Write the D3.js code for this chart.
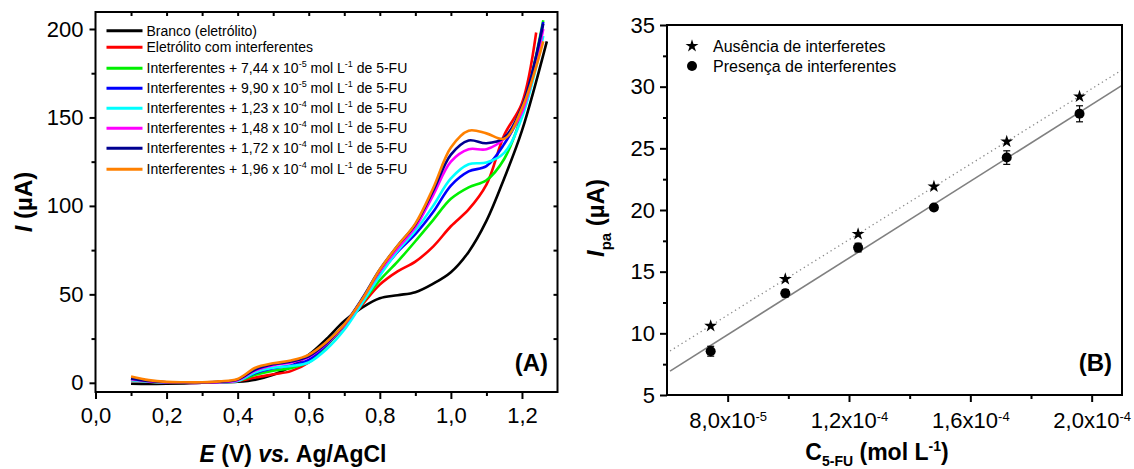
<!DOCTYPE html>
<html>
<head>
<meta charset="utf-8">
<script src="https://cdn.jsdelivr.net/npm/d3@7/dist/d3.min.js"></script>
<style>
  html, body { margin: 0; padding: 0; background: #fff; }
  svg { display: block; font-family: "Liberation Sans", Arial, Helvetica, sans-serif; }
</style>
</head>
<body>
<svg id="chart" width="1134" height="469"></svg>
<script>
// ---- Panel A: linear sweep voltammograms ----
const potential = [0.10, 0.15, 0.20, 0.25, 0.30, 0.35, 0.40, 0.45, 0.50, 0.55, 0.60, 0.65,
                   0.70, 0.75, 0.80, 0.85, 0.90, 0.95, 1.00, 1.05, 1.10, 1.15, 1.20];

const currentBlank   = [-0.5, -0.6, -0.5, -0.3, 0, 0.2, 0.6, 1.8, 4.5, 9.2, 15.8, 24.8, 35, 42.5, 47.8, 49.5, 51.2, 56, 62.5, 74, 91.5, 115.5, 142.5];
const currentInterf  = [1.5, 0.6, 0.2, 0, 0, 0.3, 1.0, 3.0, 4.8, 6.6, 11.5, 21, 32, 44, 55.5, 63, 68.5, 77, 88.5, 98, 112, 140, 158];
const current744     = [2, 0.8, 0.2, 0.1, 0.1, 0.4, 1.2, 4.5, 6.8, 8.3, 12, 21, 32, 45, 58, 68.5, 80, 92, 104, 110.5, 114.5, 126.5, 152];
const current990     = [2.5, 1, 0.3, 0.2, 0.2, 0.5, 1.3, 5.5, 8.2, 9.8, 13, 21.5, 32.5, 46.5, 61.5, 74, 84, 96.5, 111.5, 119.5, 122.5, 135, 154];
const current123     = [1.5, 0.6, 0.1, 0, 0, 0.3, 1.0, 6, 8.5, 9.5, 11.5, 19, 30, 45, 60.5, 74.5, 86, 100, 115.5, 123.5, 124.5, 130, 150];
const current148     = [2, 0.8, 0.2, 0, 0, 0.4, 1.5, 7, 10, 11.5, 14.5, 22, 32.5, 47, 63, 76, 88, 106, 125, 132, 132, 138, 153];
const current172     = [2.5, 1, 0.3, 0.2, 0.2, 0.6, 1.8, 7.5, 10.5, 12, 15, 22.5, 33, 47.5, 64, 77.5, 89.5, 108.5, 129, 137, 135.4, 138.5, 156];
const current196     = [3.6, 1.5, 0.5, 0.3, 0.3, 0.8, 2.2, 8.5, 11, 12.6, 15.8, 23, 33, 47, 64, 77.5, 90, 110, 133, 142.5, 141, 138, 155];

// last point of each sweep (potential, current)
const sweepEndPotential = [1.27, 1.24, 1.26, 1.26, 1.26, 1.26, 1.26, 1.26];
const sweepEndCurrent   = [193, 198, 205, 204, 196, 200, 203, 193];

const seriesNames = [
  ["Branco (eletrólito)"],
  ["Eletrólito com interferentes"],
  ["Interferentes + 7,44 x 10", "-5", " mol L", "-1", " de 5-FU"],
  ["Interferentes + 9,90 x 10", "-5", " mol L", "-1", " de 5-FU"],
  ["Interferentes + 1,23 x 10", "-4", " mol L", "-1", " de 5-FU"],
  ["Interferentes + 1,48 x 10", "-4", " mol L", "-1", " de 5-FU"],
  ["Interferentes + 1,72 x 10", "-4", " mol L", "-1", " de 5-FU"],
  ["Interferentes + 1,96 x 10", "-4", " mol L", "-1", " de 5-FU"]
];
const seriesCurrents = [currentBlank, currentInterf, current744, current990, current123, current148, current172, current196];
const seriesColors = ["#000000", "#ff0000", "#00f000", "#0000ff", "#00ffff", "#ff00ff", "#000090", "#ff8000"];

const xTicksA = [0.0, 0.2, 0.4, 0.6, 0.8, 1.0, 1.2];
const yTicksA = [0, 50, 100, 150, 200];

// ---- Panel B: calibration ----
const concentration   = [7.44e-5, 9.90e-5, 1.23e-4, 1.48e-4, 1.72e-4, 1.96e-4];
const ipaAbsence      = [10.6, 14.4, 18.05, 21.9, 25.55, 29.2];
const ipaPresence     = [8.55, 13.25, 16.95, 20.2, 24.25, 27.8];
const ipaPresenceErr  = [0.4, 0.3, 0.35, 0.2, 0.55, 0.65];
const fitRange        = [6.1e-5, 2.1e-4];
const xTicksB = [8e-5, 1.2e-4, 1.6e-4, 2.0e-4];
const yTicksB = [5, 10, 15, 20, 25, 30, 35];

const svg = d3.select("#chart");
const FONT_TICK = 22;

function styleAxis(g) {
  g.select(".domain").remove();
  g.selectAll(".tick line").attr("stroke", "#000").attr("stroke-width", 2);
  g.selectAll(".tick text").attr("fill", "#000").style("font-size", FONT_TICK + "px");
}
const commaFmt = d => d3.format(".1f")(d).replace(".", ",");

// ================= Panel A =================
const A = { left: 95.5, right: 557.5, top: 12, bottom: 392 };
const xA = d3.scaleLinear().domain([0, 1.3]).range([A.left, A.right]);
const yA = d3.scaleLinear().domain([-5.2, 209.6]).range([A.bottom, A.top]);
const gA = svg.append("g");

// minor ticks
gA.append("g").attr("transform", `translate(0,${A.bottom})`)
  .call(d3.axisBottom(xA).tickValues([0.1, 0.3, 0.5, 0.7, 0.9, 1.1]).tickSize(4).tickFormat(""))
  .call(styleAxis);
gA.append("g").attr("transform", `translate(${A.left},0)`)
  .call(d3.axisLeft(yA).tickValues([25, 75, 125, 175]).tickSize(4).tickFormat(""))
  .call(styleAxis);
// top and right mirrored ticks, pointing inward
gA.append("g").attr("transform", `translate(0,${A.top})`)
  .call(d3.axisTop(xA).tickValues(d3.range(1, 13).map(i => i / 10)).tickSize(-4).tickFormat(""))
  .call(styleAxis);
gA.append("g").attr("transform", `translate(${A.right},0)`)
  .call(d3.axisRight(yA).tickValues([25, 50, 75, 100, 125, 150, 175, 200]).tickSize(-4).tickFormat(""))
  .call(styleAxis);
// major ticks
gA.append("g").attr("transform", `translate(0,${A.bottom})`)
  .call(d3.axisBottom(xA).tickValues(xTicksA).tickSize(7).tickPadding(8).tickFormat(commaFmt))
  .call(styleAxis);
gA.append("g").attr("transform", `translate(${A.left},0)`)
  .call(d3.axisLeft(yA).tickValues(yTicksA).tickSize(6).tickPadding(6).tickFormat(d3.format("d")))
  .call(styleAxis);

// curves
const lineA = d3.line()
  .x(d => xA(d[0])).y(d => yA(d[1]))
  .curve(d3.curveCatmullRom.alpha(0.5));
seriesCurrents.forEach((vals, i) => {
  const pts = potential.map((e, j) => [e, vals[j]]);
  pts.push([sweepEndPotential[i], sweepEndCurrent[i]]);
  gA.append("path")
    .attr("d", lineA(pts))
    .attr("fill", "none")
    .attr("stroke", seriesColors[i])
    .attr("stroke-width", 2.6)
    .attr("stroke-linejoin", "round");
});

// frame
gA.append("rect")
  .attr("x", A.left).attr("y", A.top)
  .attr("width", A.right - A.left).attr("height", A.bottom - A.top)
  .attr("fill", "none").attr("stroke", "#000").attr("stroke-width", 2);

// legend
const legendRows = [30.7, 47.3, 68.3, 88.3, 108.3, 128.3, 148.3, 169.3];
seriesNames.forEach((parts, i) => {
  const y = legendRows[i];
  gA.append("line")
    .attr("x1", 106.5).attr("x2", 142.5).attr("y1", y).attr("y2", y)
    .attr("stroke", seriesColors[i]).attr("stroke-width", 3);
  const t = gA.append("text").attr("x", 146.5).attr("y", y + 5).style("font-size", "14px").attr("fill", "#000");
  parts.forEach((p, k) => {
    const sup = k % 2 === 1;
    t.append("tspan")
      .attr("dy", sup ? -6 : (k > 0 ? 6 : 0))
      .style("font-size", sup ? "9px" : "14px")
      .text(p);
  });
});

// panel tag
gA.append("text").attr("x", 548).attr("y", 371).attr("text-anchor", "end")
  .style("font-size", "24px").style("font-weight", "bold").text("(A)");

// axis titles
const xtA = svg.append("text").attr("x", 293).attr("y", 462).attr("text-anchor", "middle")
  .style("font-size", "23px").style("font-weight", "bold");
xtA.append("tspan").style("font-style", "italic").text("E");
xtA.append("tspan").text(" (V)  ");
xtA.append("tspan").style("font-style", "italic").text("vs.");
xtA.append("tspan").text(" Ag/AgCl");

const ytA = svg.append("text").attr("transform", "translate(32,202) rotate(-90)")
  .attr("text-anchor", "middle").style("font-size", "24px").style("font-weight", "bold");
ytA.append("tspan").style("font-style", "italic").text("I");
ytA.append("tspan").text(" (µA)");

// ================= Panel B =================
const B = { left: 667, right: 1122, top: 25, bottom: 395 };
const xB = d3.scaleLinear().domain([6e-5, 2.1e-4]).range([B.left, B.right]);
const yB = d3.scaleLinear().domain([5, 35]).range([B.bottom, B.top]);
const gB = svg.append("g");

gB.append("g").attr("transform", `translate(0,${B.bottom})`)
  .call(d3.axisBottom(xB).tickValues([1.0e-4, 1.4e-4, 1.8e-4]).tickSize(4).tickFormat(""))
  .call(styleAxis);
gB.append("g").attr("transform", `translate(${B.left},0)`)
  .call(d3.axisLeft(yB).tickValues([7.5, 12.5, 17.5, 22.5, 27.5, 32.5]).tickSize(4).tickFormat(""))
  .call(styleAxis);

const sciParts = d => {
  const e = Math.floor(Math.log10(d) + 1e-9);
  const m = d / Math.pow(10, e);
  return [commaFmt(m) + "x10", String(e)];
};
const xAxisB = gB.append("g").attr("transform", `translate(0,${B.bottom})`)
  .call(d3.axisBottom(xB).tickValues(xTicksB).tickSize(7).tickPadding(10).tickFormat(""))
  .call(styleAxis);
xAxisB.selectAll(".tick text").each(function (d) {
  const [base, exp] = sciParts(d);
  const t = d3.select(this);
  t.text(null);
  t.append("tspan").text(base);
  t.append("tspan").attr("dy", "-0.5em").style("font-size", "13px").text(exp);
});
gB.append("g").attr("transform", `translate(${B.left},0)`)
  .call(d3.axisLeft(yB).tickValues(yTicksB).tickSize(7).tickPadding(5).tickFormat(d3.format("d")))
  .call(styleAxis);

// least-squares fits
function linFit(xs, ys) {
  const mx = d3.mean(xs), my = d3.mean(ys);
  const sxy = d3.sum(xs, (x, i) => (x - mx) * (ys[i] - my));
  const sxx = d3.sum(xs, x => (x - mx) * (x - mx));
  const b = sxy / sxx;
  return x => my + b * (x - mx);
}
const fitAbs = linFit(concentration, ipaAbsence);
const fitPres = linFit(concentration, ipaPresence);

gB.append("line")
  .attr("x1", xB(fitRange[0])).attr("y1", yB(fitAbs(fitRange[0])))
  .attr("x2", xB(fitRange[1])).attr("y2", yB(fitAbs(fitRange[1])))
  .attr("stroke", "#8a8a8a").attr("stroke-width", 1.3).attr("stroke-dasharray", "1.3,3.2");
gB.append("line")
  .attr("x1", xB(fitRange[0])).attr("y1", yB(fitPres(fitRange[0])))
  .attr("x2", xB(fitRange[1])).attr("y2", yB(fitPres(fitRange[1])))
  .attr("stroke", "#808080").attr("stroke-width", 1.6);

// error bars
concentration.forEach((c, i) => {
  const x = xB(c), y1 = yB(ipaPresence[i] - ipaPresenceErr[i]), y2 = yB(ipaPresence[i] + ipaPresenceErr[i]);
  const g = gB.append("g").attr("stroke", "#000").attr("stroke-width", 1.2);
  g.append("line").attr("x1", x).attr("x2", x).attr("y1", y1).attr("y2", y2);
  g.append("line").attr("x1", x - 3.5).attr("x2", x + 3.5).attr("y1", y1).attr("y2", y1);
  g.append("line").attr("x1", x - 3.5).attr("x2", x + 3.5).attr("y1", y2).attr("y2", y2);
});

const star = d3.symbol().type(d3.symbolStar).size(52);
gB.selectAll("path.star").data(concentration).join("path")
  .attr("class", "star")
  .attr("d", star)
  .attr("transform", (d, i) => `translate(${xB(d)},${yB(ipaAbsence[i])})`)
  .attr("fill", "#000");
gB.selectAll("circle.pt").data(concentration).join("circle")
  .attr("class", "pt")
  .attr("cx", d => xB(d)).attr("cy", (d, i) => yB(ipaPresence[i]))
  .attr("r", 5).attr("fill", "#000");

gB.append("rect")
  .attr("x", B.left).attr("y", B.top)
  .attr("width", B.right - B.left).attr("height", B.bottom - B.top)
  .attr("fill", "none").attr("stroke", "#000").attr("stroke-width", 2);

// legend B
gB.append("path").attr("d", star).attr("transform", "translate(692,46)").attr("fill", "#000");
gB.append("circle").attr("cx", 692).attr("cy", 66).attr("r", 5).attr("fill", "#000");
gB.append("text").attr("x", 713).attr("y", 51.5).style("font-size", "16px").text("Ausência de interferetes");
gB.append("text").attr("x", 713).attr("y", 71.5).style("font-size", "16px").text("Presença de interferentes");

gB.append("text").attr("x", 1112).attr("y", 371).attr("text-anchor", "end")
  .style("font-size", "24px").style("font-weight", "bold").text("(B)");

// axis titles B
const xtB = svg.append("text").attr("x", 877).attr("y", 460).attr("text-anchor", "middle")
  .style("font-size", "23px").style("font-weight", "bold");
xtB.append("tspan").text("C");
xtB.append("tspan").attr("dy", 6).style("font-size", "14px").text("5-FU");
xtB.append("tspan").attr("dy", -6).text(" (mol L");
xtB.append("tspan").attr("dy", -9).style("font-size", "14px").text("-1");
xtB.append("tspan").attr("dy", 9).text(")");

const ytB = svg.append("text").attr("transform", "translate(604,218) rotate(-90)")
  .attr("text-anchor", "middle").style("font-size", "24px").style("font-weight", "bold");
ytB.append("tspan").style("font-style", "italic").text("I");
ytB.append("tspan").attr("dy", 7).style("font-size", "15px").text("pa");
ytB.append("tspan").attr("dy", -7).text(" (µA)");
</script>
</body>
</html>
